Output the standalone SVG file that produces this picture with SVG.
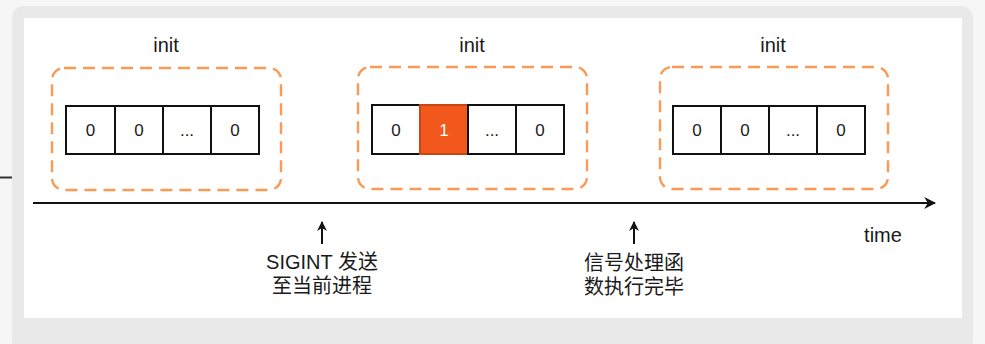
<svg xmlns="http://www.w3.org/2000/svg" width="985" height="344" viewBox="0 0 985 344">
<defs>
<style>
.t{font-family:"Liberation Sans","Noto Sans CJK SC",sans-serif;fill:#1a1a1a;text-anchor:middle}
.lbl{font-size:20px}
.num{font-size:17px}
.dash{fill:none;stroke:#fa9a55;stroke-width:2.4;stroke-dasharray:12 7}
.cell{fill:#fff;stroke:#111;stroke-width:2}
.hot{fill:#f2581b;stroke:#c94512;stroke-width:2}
.ln{stroke:#111;stroke-width:2;fill:none}
</style>
<marker id="ah" viewBox="0 0 10 10" refX="9" refY="5" markerWidth="12" markerHeight="12" markerUnits="userSpaceOnUse" orient="auto">
<path d="M0,0 L10,5 L0,10 L3,5 Z" fill="#111"/>
</marker>
<marker id="ahs" viewBox="0 0 10 10" refX="9" refY="5" markerWidth="10" markerHeight="10" markerUnits="userSpaceOnUse" orient="auto">
<path d="M0,0 L10,5 L0,10 L3,5 Z" fill="#111"/>
</marker>
</defs>
<rect x="0" y="0" width="985" height="344" fill="#f6f6f6"/>
<line x1="0" y1="177.5" x2="12" y2="177.5" stroke="#333" stroke-width="2"/>
<rect x="12" y="6" width="961" height="346" rx="12" fill="#e9e9e9"/>
<rect x="24" y="18" width="938" height="300" fill="#ffffff"/>

<g id="frame1">
<text class="t lbl" x="166" y="52">init</text>
<rect class="dash" x="52" y="68" width="229" height="122" rx="12"/>
<rect class="cell" x="66" y="106" width="49" height="48"/>
<rect class="cell" x="115" y="106" width="48" height="48"/>
<rect class="cell" x="163" y="106" width="48" height="48"/>
<rect class="cell" x="211" y="106" width="48" height="48"/>
<text class="t num" x="90.5" y="136">0</text>
<text class="t num" x="139" y="136">0</text>
<text class="t num" x="187" y="136">...</text>
<text class="t num" x="235" y="136">0</text>
</g>

<g id="frame2">
<text class="t lbl" x="472" y="52">init</text>
<rect class="dash" x="358" y="67" width="229" height="122" rx="12"/>
<rect class="cell" x="372" y="105" width="48" height="49"/>
<rect class="hot" x="420" y="105" width="48" height="49"/>
<rect class="cell" x="468" y="105" width="48" height="49"/>
<rect class="cell" x="516" y="105" width="48" height="49"/>
<text class="t num" x="396" y="136">0</text>
<text class="t num" x="444" y="136" style="fill:#fff">1</text>
<text class="t num" x="492" y="136">...</text>
<text class="t num" x="540" y="136">0</text>
</g>

<g id="frame3">
<text class="t lbl" x="773" y="52">init</text>
<rect class="dash" x="660" y="67" width="228" height="122" rx="12"/>
<rect class="cell" x="673" y="106" width="48" height="48"/>
<rect class="cell" x="721" y="106" width="48" height="48"/>
<rect class="cell" x="769" y="106" width="48" height="48"/>
<rect class="cell" x="817" y="106" width="48" height="48"/>
<text class="t num" x="697" y="136">0</text>
<text class="t num" x="745" y="136">0</text>
<text class="t num" x="793" y="136">...</text>
<text class="t num" x="841" y="136">0</text>
</g>

<g id="connectors">
<line class="ln" x1="33" y1="203" x2="935" y2="203" marker-end="url(#ah)"/>
<line class="ln" x1="322" y1="244" x2="322" y2="222" marker-end="url(#ahs)"/>
<line class="ln" x1="634" y1="244" x2="634" y2="222" marker-end="url(#ahs)"/>
</g>

<g id="label-sigint">
<text class="t lbl" x="322" y="269">SIGINT 发送</text>
<text class="t lbl" x="322" y="293">至当前进程</text>
</g>
<g id="label-handler">
<text class="t lbl" x="634" y="270">信号处理函</text>
<text class="t lbl" x="634" y="294">数执行完毕</text>
</g>
<g id="label-time">
<text class="t lbl" x="883" y="242">time</text>
</g>
</svg>
